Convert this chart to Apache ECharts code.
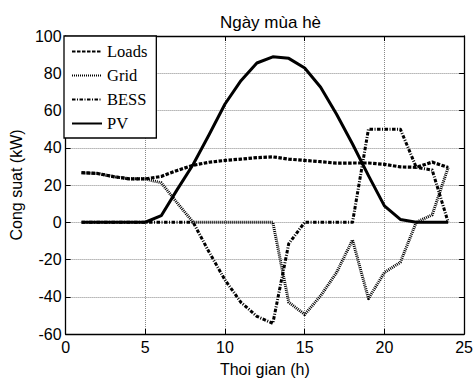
<!DOCTYPE html>
<html>
<head>
<meta charset="utf-8">
<script src="https://cdn.jsdelivr.net/npm/echarts@6/dist/echarts.min.js"></script>
<style>
  html, body { margin: 0; padding: 0; background: #fff; }
  #chart { width: 476px; height: 382px; }
</style>
</head>
<body>
<div id="chart"></div>
<script>
// hours of the day
const hours = [1, 2, 3, 4, 5, 6, 7, 8, 9, 10, 11, 12, 13, 14, 15, 16, 17, 18, 19, 20, 21, 22, 23, 24]

// power (kW)
const loads = [26.6, 26.2, 24.5, 23.3, 23.3, 24.6, 27.8, 30.6, 32.2, 33.2, 33.9, 34.7, 35.1, 33.9, 33.2, 32.5, 31.7, 31.8, 31.8, 31.1, 29.7, 29.5, 32.3, 29.4]
const grid = [26.6, 26.2, 24.5, 23.3, 23.3, 21.2, 10.4, 0, 0, 0, 0, 0, 0, -43, -49.5, -39.5, -27, -9.5, -41, -27, -21.5, 0, 4, 29.4]
const bess = [0, 0, 0, 0, 0, 0, 0, 0, -16, -31, -43, -50.5, -54.3, -11.5, 0, 0, 0, 0, 50, 50, 50, 29.5, 28, 0]
const pv = [0, 0, 0, 0, 0, 3.5, 17.5, 31, 47, 63.5, 76, 85.5, 88.8, 88, 82.8, 72.5, 58, 42, 25, 8.8, 1.5, 0, 0, 0]

const xTicks = [0, 25, 5] // min, max, step
const yTicks = [-60, 100, 20]

const pairs = (vals) => hours.map((h, i) => [h, vals[i]])

const chart = echarts.init(document.getElementById('chart'), null, { renderer: 'svg' })

const sansFont = 'Liberation Sans, Arial, sans-serif'

const baseAxis = {
  axisLine: { show: true, onZero: false, lineStyle: { color: '#000', width: 1.3 } },
  axisTick: { show: true, inside: true, length: 5, lineStyle: { color: '#000', width: 1 } },
}

const line = (name, vals, type, width) => ({
  name,
  type: 'line',
  data: pairs(vals),
  symbol: 'circle',
  showSymbol: false,
  silent: true,
  lineStyle: { color: '#000', width, type, cap: 'butt', join: 'round' },
  itemStyle: { color: '#000' },
})

chart.setOption({
  animation: false,
  backgroundColor: '#fff',
  title: {
    text: 'Ngày mùa hè',
    left: 265.5,
    textAlign: 'center',
    top: 9,
    textStyle: { fontFamily: sansFont, fontSize: 17, fontWeight: 'normal', color: '#000' },
  },
  grid: { left: 64, right: 9, top: 36, bottom: 44.5 },
  legend: {
    orient: 'vertical',
    left: 64,
    top: 36,
    padding: [7, 9, 6, 7],
    itemGap: 7,
    itemWidth: 30,
    itemHeight: 17,
    backgroundColor: '#fff',
    borderColor: '#000',
    borderWidth: 1.3,
    borderRadius: 0,
    itemStyle: { opacity: 0 },
    textStyle: { fontFamily: 'Liberation Serif, Times New Roman, serif', fontSize: 16.5, color: '#000' },
    data: ['Loads', 'Grid', 'BESS', 'PV'],
  },
  xAxis: [
    {
      ...baseAxis,
      type: 'value',
      min: xTicks[0],
      max: xTicks[1],
      interval: xTicks[2],
      name: 'Thoi gian (h)',
      nameLocation: 'middle',
      nameGap: 27,
      nameTextStyle: { fontFamily: sansFont, fontSize: 16, color: '#000' },
      axisLabel: { fontFamily: sansFont, fontSize: 16, color: '#000', margin: 5 },
      splitLine: { show: true, lineStyle: { color: '#888', width: 1, type: [1, 1] } },
    },
    {
      ...baseAxis,
      type: 'value',
      position: 'top',
      min: xTicks[0],
      max: xTicks[1],
      interval: xTicks[2],
      axisLabel: { show: false },
      splitLine: { show: false },
    },
  ],
  yAxis: [
    {
      ...baseAxis,
      type: 'value',
      min: yTicks[0],
      max: yTicks[1],
      interval: yTicks[2],
      name: 'Cong suat (kW)',
      nameLocation: 'middle',
      nameGap: 39,
      nameTextStyle: { fontFamily: sansFont, fontSize: 16, color: '#000' },
      axisLabel: { fontFamily: sansFont, fontSize: 16, color: '#000', margin: 4 },
      splitLine: { show: true, lineStyle: { color: '#888', width: 1, type: [1, 1] } },
    },
    {
      ...baseAxis,
      type: 'value',
      position: 'right',
      min: yTicks[0],
      max: yTicks[1],
      interval: yTicks[2],
      axisLabel: { show: false },
      splitLine: { show: false },
    },
  ],
  series: [
    line('Loads', loads, [3.5, 1.5], 3.2),
    line('Grid', grid, [1, 1], 3),
    line('BESS', bess, [3.5, 1.5, 1, 1.5], 3),
    line('PV', pv, 'solid', 3),
  ],
})
</script>
</body>
</html>
